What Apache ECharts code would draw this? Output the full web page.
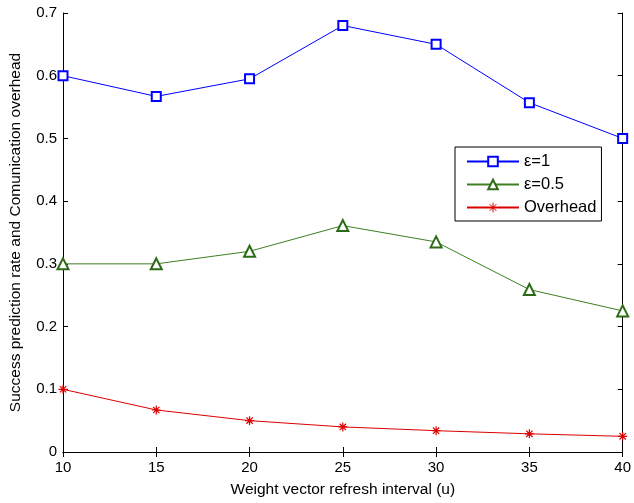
<!DOCTYPE html>
<html><head><meta charset="utf-8">
<script src="https://cdn.jsdelivr.net/npm/echarts@6/dist/echarts.min.js"></script>
<style>html,body{margin:0;padding:0;background:#fff}#c{width:634px;height:503px}</style>
</head><body><div id="c"></div>
<script>
const categories = [10, 15, 20, 25, 30, 35, 40];
const eps1 = [0.600, 0.567, 0.595, 0.680, 0.650, 0.557, 0.500];
const eps05 = [0.300, 0.300, 0.320, 0.361, 0.335, 0.259, 0.225];
const overhead = [0.100, 0.067, 0.050, 0.040, 0.034, 0.029, 0.025];
const seriesNames = ['\u03b5=1', '\u03b5=0.5', 'Overhead'];
const xTitle = 'Weight vector refresh interval (u)';
const yTitle = 'Success prediction rate and Comunication overhead';

const font = 'Liberation Sans, Arial, sans-serif';
const pair = arr => arr.map((v, i) => [categories[i], v]);
const star = 'path://M5 0 L5 10 M0 5 L10 5 M1.5 1.5 L8.5 8.5 M1.5 8.5 L8.5 1.5';

const chart = echarts.init(document.getElementById('c'), null, {renderer: 'canvas'});
const axisCommon = {
  axisLine: {show: true, lineStyle: {color: '#000', width: 1}},
  axisTick: {show: true, inside: true, length: 5, lineStyle: {color: '#000'}},
  splitLine: {show: false}
};
chart.setOption({
  animation: false,
  backgroundColor: '#fff',
  grid: {left: 63, right: 6, top: 13, bottom: 48, containLabel: false},
  xAxis: [
    Object.assign({type: 'value', min: 10, max: 40, interval: 5, position: 'bottom',
      name: xTitle, nameLocation: 'middle', nameGap: 30,
      nameTextStyle: {fontFamily: font, fontSize: 15.5, color: '#000'},
      axisLabel: {fontFamily: font, fontSize: 15, color: '#000', margin: 8}}, axisCommon),
    Object.assign({type: 'value', min: 10, max: 40, interval: 5, position: 'top',
      axisLabel: {show: false}}, axisCommon)
  ],
  yAxis: [
    Object.assign({type: 'value', min: 0, max: 0.7, interval: 0.1, position: 'left',
      name: yTitle, nameLocation: 'middle', nameGap: 39, nameRotate: 90,
      nameTextStyle: {fontFamily: font, fontSize: 15.5, color: '#000'},
      axisLabel: {fontFamily: font, fontSize: 15, color: '#000', margin: 6,
        formatter: v => String(Math.round(v * 10) / 10)}}, axisCommon),
    Object.assign({type: 'value', min: 0, max: 0.7, interval: 0.1, position: 'right',
      axisLabel: {show: false}}, axisCommon)
  ],
  legend: {
    left: 455, top: 147, orient: 'vertical',
    backgroundColor: '#fff', borderColor: '#000', borderWidth: 1, borderRadius: 0,
    padding: [6, 5, 5, 11], itemGap: 6, itemWidth: 52, itemHeight: 12,
    itemStyle: {borderWidth: 1},
    textStyle: {fontFamily: font, fontSize: 16.5, color: '#000'},
    data: seriesNames
  },
  series: [
    {name: seriesNames[0], type: 'line', data: pair(eps1), symbol: 'emptyRect', symbolSize: 9,
      lineStyle: {color: '#0000ff', width: 1}, itemStyle: {color: '#0000ff', borderWidth: 1}},
    {name: seriesNames[1], type: 'line', data: pair(eps05), symbol: 'emptyTriangle', symbolSize: 11,
      lineStyle: {color: '#3f7f22', width: 1}, itemStyle: {color: '#2d6a17', borderWidth: 1}},
    {name: seriesNames[2], type: 'line', data: pair(overhead), symbol: star, symbolSize: 9,
      lineStyle: {color: '#dd0000', width: 1},
      itemStyle: {color: 'rgba(0,0,0,0)', borderColor: '#dd0000', borderWidth: 1.2}}
  ]
});
</script></body></html>
